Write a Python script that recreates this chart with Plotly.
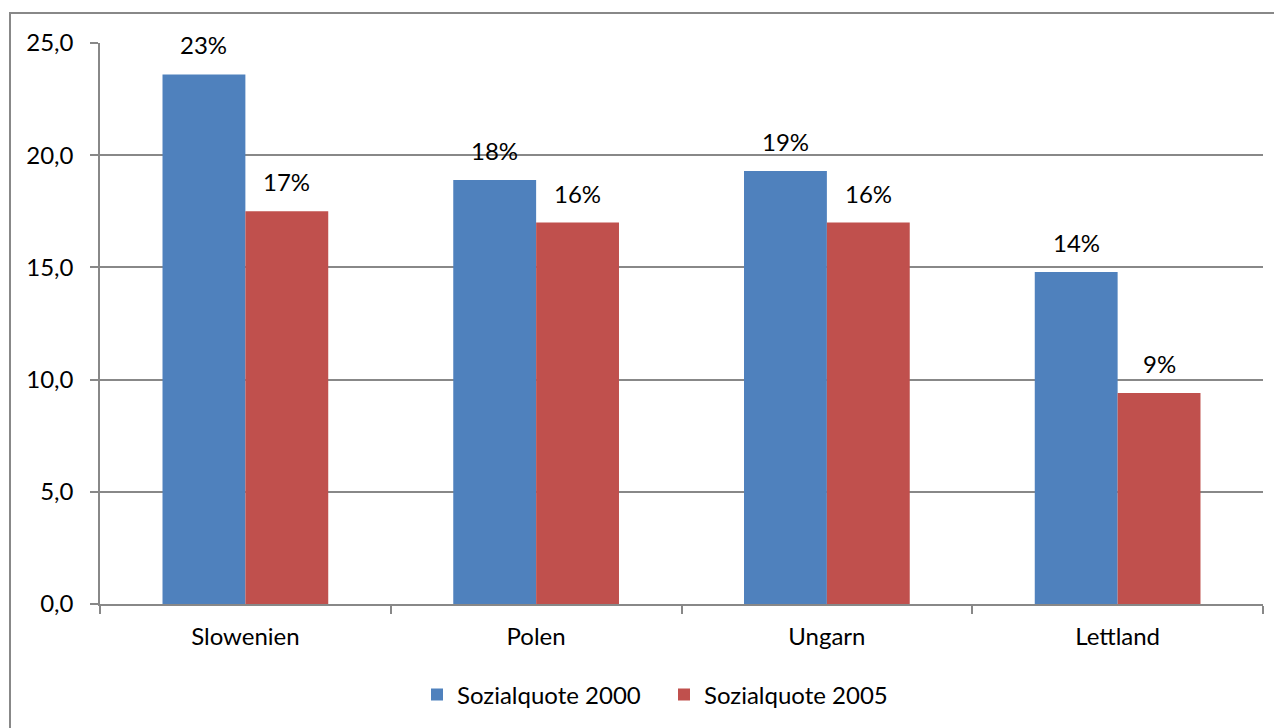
import plotly.graph_objects as go

categories = ["Slowenien", "Polen", "Ungarn", "Lettland"]
values_2000 = [23.6, 18.9, 19.3, 14.8]
values_2005 = [17.5, 17.0, 17.0, 9.4]
labels_2000 = ["23%", "18%", "19%", "14%"]
labels_2005 = ["17%", "16%", "16%", "9%"]
series_names = ["Sozialquote 2000", "Sozialquote 2005"]
y_ticks = [0, 5, 10, 15, 20, 25]

FONT = "Lato, Open Sans, sans-serif"
FS = 24
BLUE = "#4F81BD"
RED = "#C0504D"
GRID = "#888888"

bargap = 0.43
bw = (1 - bargap) / 2

# page body has an 8px margin: compensate so the plot area lands at x 100-1263, y 43-604
ML, MR, MT, MB = 92, 19, 35, 124
W, H = 1274, 720
PW = W - ML - MR
PH = H - MT - MB

fig = go.Figure()
fig.add_trace(go.Bar(x=categories, y=values_2000, name=series_names[0],
                     marker=dict(color=BLUE, line=dict(width=0))))
fig.add_trace(go.Bar(x=categories, y=values_2005, name=series_names[1],
                     marker=dict(color=RED, line=dict(width=0))))

annotations = []
for i, (v, t) in enumerate(zip(values_2000, labels_2000)):
    annotations.append(dict(x=i - bw / 2, y=v, text=t, showarrow=False, yanchor="bottom",
                            yshift=13, font=dict(family=FONT, size=FS, color="#000")))
for i, (v, t) in enumerate(zip(values_2005, labels_2005)):
    annotations.append(dict(x=i + bw / 2, y=v, text=t, showarrow=False, yanchor="bottom",
                            yshift=13, font=dict(family=FONT, size=FS, color="#000")))

fig.update_layout(
    width=W, height=H,
    margin=dict(l=ML, r=MR, t=MT, b=MB, autoexpand=False),
    paper_bgcolor="white", plot_bgcolor="white",
    barmode="group", bargap=bargap, bargroupgap=0,
    separators=",.",
    font=dict(family=FONT, size=FS, color="#000"),
    showlegend=True,
    legend=dict(orientation="h", x=(417 - 100) / PW, xanchor="left", y=-91 / PH, yanchor="middle",
                font=dict(family=FONT, size=FS), itemwidth=30, entrywidth=202,
                entrywidthmode="pixels", traceorder="normal"),
    annotations=annotations,
    shapes=[dict(type="rect", xref="paper", yref="paper",
                 x0=(10 - 100) / PW, x1=1.2, y0=-0.5, y1=(604 - 13) / PH,
                 line=dict(color=GRID, width=2), layer="below")],
)
fig.update_xaxes(
    type="category", categoryorder="array", categoryarray=categories,
    range=[-0.5, len(categories) - 0.5], automargin=False,
    showline=True, linecolor=GRID, linewidth=1.5,
    ticks="outside", ticklen=8, tickcolor=GRID, tickwidth=1.5,
    tickson="boundaries", showgrid=False, ticklabelstandoff=10,
    tickfont=dict(family=FONT, size=FS),
)
fig.update_yaxes(
    range=[0, 25], tickvals=y_ticks, tickformat=".1f", automargin=False,
    showline=True, linecolor=GRID, linewidth=1.5,
    ticks="outside", ticklen=8, tickcolor=GRID, tickwidth=1.5,
    showgrid=True, gridcolor=GRID, gridwidth=1.5, zeroline=False,
    ticklabelstandoff=12,
    tickfont=dict(family=FONT, size=FS),
)

fig.write_html("out.html")
